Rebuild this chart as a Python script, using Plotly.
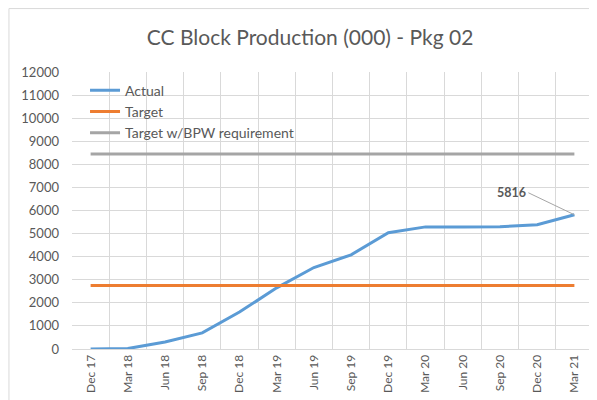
import plotly.graph_objects as go

categories = ["Dec 17", "Mar 18", "Jun 18", "Sep 18", "Dec 18", "Mar 19", "Jun 19",
              "Sep 19", "Dec 19", "Mar 20", "Jun 20", "Sep 20", "Dec 20", "Mar 21"]
actual = [0, 20, 300, 700, 1600, 2650, 3530, 4080, 5040, 5290, 5290, 5300, 5380, 5816]
target = [2750] * len(categories)
target_bpw = [8450] * len(categories)
y_ticks = list(range(0, 12001, 1000))
y_tick_labels = [str(v) for v in y_ticks]

font_fam = "Lato, 'Open Sans', sans-serif"
txt = "#595959"

fig = go.Figure()
fig.add_trace(go.Scatter(x=categories, y=actual, name="Actual", mode="lines",
                         line=dict(color="#5B9BD5", width=3)))
fig.add_trace(go.Scatter(x=categories, y=target, name="Target", mode="lines",
                         line=dict(color="#ED7D31", width=3)))
fig.add_trace(go.Scatter(x=categories, y=target_bpw, name="Target w/BPW requirement", mode="lines",
                         line=dict(color="#A5A5A5", width=3)))

fig.add_annotation(x=categories[-1], y=actual[-1], text="<b>5816</b>", showarrow=True,
                   arrowhead=0, arrowwidth=1, arrowcolor="#A5A5A5", ax=-46, ay=-22,
                   xanchor="right", font=dict(size=12.5, color=txt, family=font_fam))

fig.update_layout(
    width=597, height=400,
    margin=dict(l=64, r=12, t=64, b=59),
    paper_bgcolor="white", plot_bgcolor="white",
    font=dict(family=font_fam, color=txt, size=12),
    title=dict(text="CC Block Production (000) - Pkg 02", x=0.506, xanchor="center",
               y=0.927, yanchor="middle", font=dict(size=21, color=txt, family=font_fam)),
    showlegend=True,
    legend=dict(x=0.025, y=0.99, xanchor="left", yanchor="top", bgcolor="rgba(0,0,0,0)",
                font=dict(size=14, color=txt), tracegroupgap=0, itemwidth=30),
    shapes=[dict(type="rect", xref="paper", yref="paper", x0=-0.121, x1=1.05, y0=-0.3, y1=1.229,
                 line=dict(color="#D9D9D9", width=1))],
)
fig.update_xaxes(type="category", categoryorder="array", categoryarray=categories,
                 range=[-0.5, len(categories) - 0.5], tickangle=-90, showgrid=True,
                 gridcolor="#D9D9D9", tickson="boundaries", ticks="", showline=True,
                 linecolor="#D9D9D9", tickfont=dict(size=12, color=txt), mirror=False)
fig.update_yaxes(range=[0, 12000], tickvals=y_ticks, ticktext=y_tick_labels, showgrid=True,
                 gridcolor="#D9D9D9", zeroline=False, ticks="", ticklabelstandoff=12,
                 tickfont=dict(size=13, color=txt), showline=False)

fig.write_html("out.html")
